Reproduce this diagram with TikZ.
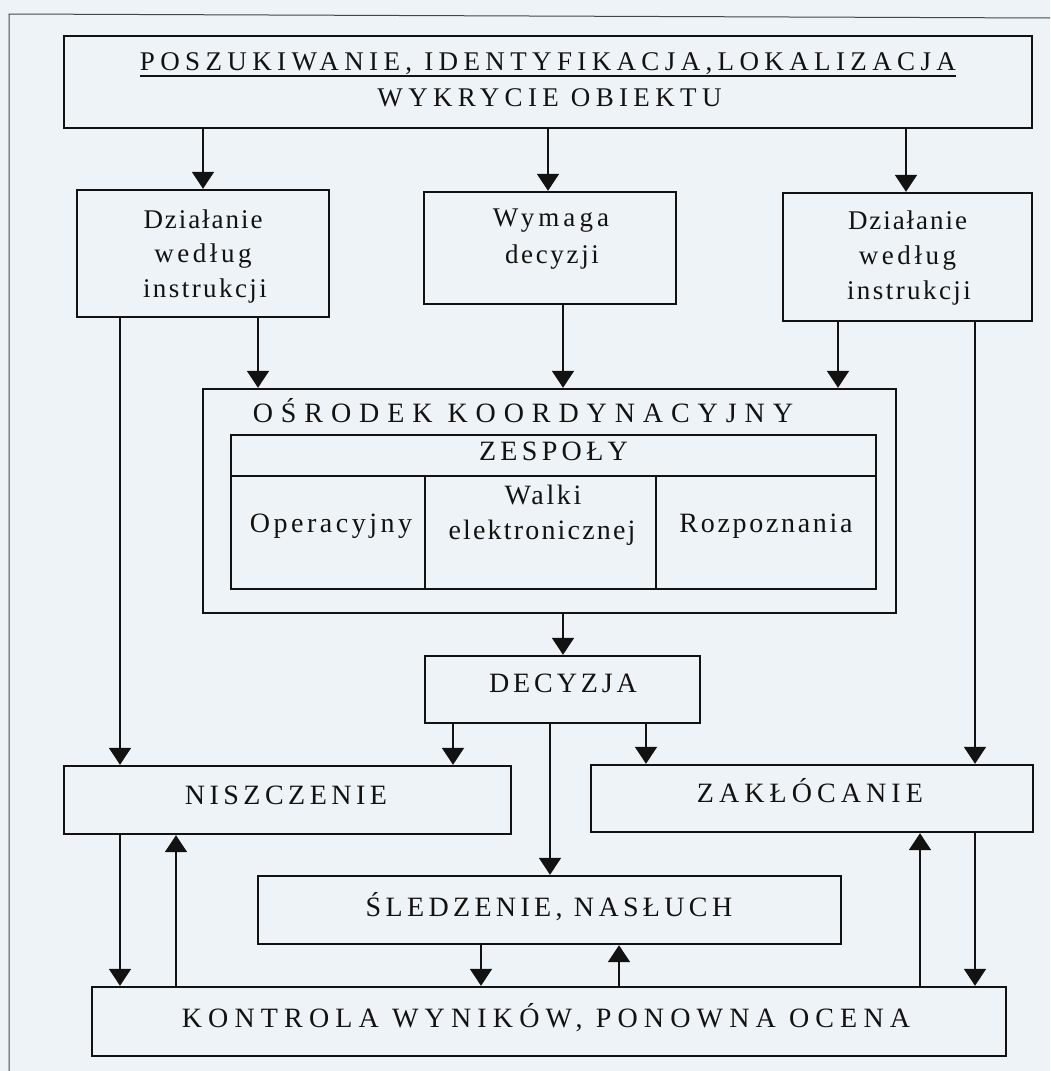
\documentclass[tikz,border=0pt]{standalone}
\usepackage{fontspec}
\setmainfont{Liberation Serif}
\usetikzlibrary{arrows.meta}
\definecolor{bg}{RGB}{237,243,246}
\definecolor{ink}{RGB}{18,18,18}
\definecolor{framec}{RGB}{70,70,70}
\newcommand\lsfont[2]{\fontsize{#1}{#1}\selectfont\addfontfeature{LetterSpace=#2}}
\begin{document}
\begin{tikzpicture}[x=1pt,y=-1pt,
  box/.style={draw=ink, line width=2.4pt, rectangle, inner sep=0pt},
  arr/.style={draw=ink, line width=2pt, -{Triangle[length=17pt,width=22pt]}},
  ln/.style={draw=ink, line width=2pt},
  txt/.style={inner sep=0pt, anchor=base, text=ink},
]
\useasboundingbox (0,0) rectangle (1050,1071);
\fill[bg] (0,0) rectangle (1050,1071);
\draw[line width=1pt, draw=framec] (1050,18) -- (9,14) -- (9,1071);

% boxes
\node[box, minimum width=968pt, minimum height=92pt] (top) at (548,82) {};
\node[box, minimum width=252pt, minimum height=127pt] (L2) at (203,253.5) {};
\node[box, minimum width=252pt, minimum height=112pt] (M2) at (550,248) {};
\node[box, minimum width=249pt, minimum height=128pt] (R2) at (907.5,257) {};
\node[box, minimum width=693pt, minimum height=224pt] (OS) at (549.5,501) {};
\node[box, minimum width=645pt, minimum height=154pt] (tbl) at (553.5,512) {};
\node[box, minimum width=275pt, minimum height=67pt] (DEC) at (562.5,689.5) {};
\node[box, minimum width=447pt, minimum height=68pt] (NIS) at (287.5,800) {};
\node[box, minimum width=442pt, minimum height=67pt] (ZAK) at (812,798.5) {};
\node[box, minimum width=583pt, minimum height=68pt] (SLED) at (549.5,910) {};
\node[box, minimum width=914pt, minimum height=69pt] (KON) at (549,1021.5) {};

% table dividers
\coordinate (rowy) at (0,476);
\coordinate (d1) at (425,0);
\coordinate (d2) at (656,0);
\draw[ln, line width=2.4pt] (tbl.west |- rowy) -- (tbl.east |- rowy);
\draw[ln, line width=2.4pt] (d1 |- rowy) -- (d1 |- tbl.south);
\draw[ln, line width=2.4pt] (d2 |- rowy) -- (d2 |- tbl.south);

% texts
\node[txt, font=\lsfont{27}{19.9}] (t1) at (548,70) {POSZUKIWANIE, IDENTYFIKACJA,LOKALIZACJA};
\draw[ink, line width=1.5pt] ([yshift=-6pt]t1.base west) -- ([yshift=-6pt]t1.base east);
\node[txt, font=\lsfont{27}{19.8}] (t2) at (549.5,106) {WYKRYCIE OBIEKTU};

\node[txt, font=\lsfont{27}{7.2}] (l2a) at (203,228) {Działanie};
\node[txt, font=\lsfont{27}{13}] (l2b) at (203,262) {według};
\node[txt, font=\lsfont{27}{9}] (l2c) at (205,297) {instrukcji};

\node[txt, font=\lsfont{27}{15.2}] (m2a) at (551,226) {Wymaga};
\node[txt, font=\lsfont{27}{9.9}] (m2b) at (552,263) {decyzji};

\node[txt, font=\lsfont{27}{7.2}] (r2a) at (907.5,229) {Działanie};
\node[txt, font=\lsfont{27}{13}] (r2b) at (907.5,264) {według};
\node[txt, font=\lsfont{27}{9}] (r2c) at (909,299) {instrukcji};

\node[txt, font=\lsfont{28}{28.3}] (ost) at (523,422) {OŚRODEK KOORDYNACYJNY};
\node[txt, font=\lsfont{28}{15.5}] (zesp) at (553.5,460) {ZESPOŁY};
\node[txt, font=\lsfont{28}{12.5}] (c1) at (331,532) {Operacyjny};
\node[txt, font=\lsfont{28}{9.5}] (c2a) at (543,504) {Walki};
\node[txt, font=\lsfont{28}{7.8}] (c2b) at (542,539) {elektronicznej};
\node[txt, font=\lsfont{28}{9.6}] (c3) at (766,532) {Rozpoznania};

\node[txt, font=\lsfont{28}{14}] (dect) at (563,692) {DECYZJA};
\node[txt, font=\lsfont{28}{16}] (nist) at (286,804) {NISZCZENIE};
\node[txt, font=\lsfont{28}{18.1}] (zakt) at (810,802) {ZAKŁÓCANIE};
\node[txt, font=\lsfont{28}{15.5}] (sledt) at (549,916) {ŚLEDZENIE, NASŁUCH};
\node[txt, font=\lsfont{28}{22}] (kont) at (546,1027) {KONTROLA WYNIKÓW, PONOWNA OCENA};

% connector columns
\coordinate (xA) at (203,0);
\coordinate (xB) at (548,0);
\coordinate (xC) at (906,0);
\coordinate (xD) at (120,0);
\coordinate (xE) at (258,0);
\coordinate (xF) at (563,0);
\coordinate (xG) at (838,0);
\coordinate (xH) at (975,0);
\coordinate (xI) at (453,0);
\coordinate (xJ) at (550,0);
\coordinate (xK) at (646,0);
\coordinate (xL) at (176,0);
\coordinate (xM) at (481,0);
\coordinate (xN) at (619,0);
\coordinate (xO) at (920,0);

% connectors
\draw[arr] (top.south -| xA) -- (L2.north -| xA);
\draw[arr] (top.south -| xB) -- (M2.north -| xB);
\draw[arr] (top.south -| xC) -- (R2.north -| xC);
\draw[arr] (L2.south -| xD) -- (NIS.north -| xD);
\draw[arr] (L2.south -| xE) -- (OS.north -| xE);
\draw[arr] (M2.south -| xF) -- (OS.north -| xF);
\draw[arr] (R2.south -| xG) -- (OS.north -| xG);
\draw[arr] (R2.south -| xH) -- (ZAK.north -| xH);
\draw[arr] (OS.south -| xF) -- (DEC.north -| xF);
\draw[arr] (DEC.south -| xI) -- (NIS.north -| xI);
\draw[arr] (DEC.south -| xJ) -- (SLED.north -| xJ);
\draw[arr] (DEC.south -| xK) -- (ZAK.north -| xK);
\draw[arr] (NIS.south -| xD) -- (KON.north -| xD);
\draw[arr] (KON.north -| xL) -- (NIS.south -| xL);
\draw[arr] (SLED.south -| xM) -- (KON.north -| xM);
\draw[arr] (KON.north -| xN) -- (SLED.south -| xN);
\draw[arr] (ZAK.south -| xH) -- (KON.north -| xH);
\draw[arr] (KON.north -| xO) -- (ZAK.south -| xO);
\end{tikzpicture}
\end{document}
